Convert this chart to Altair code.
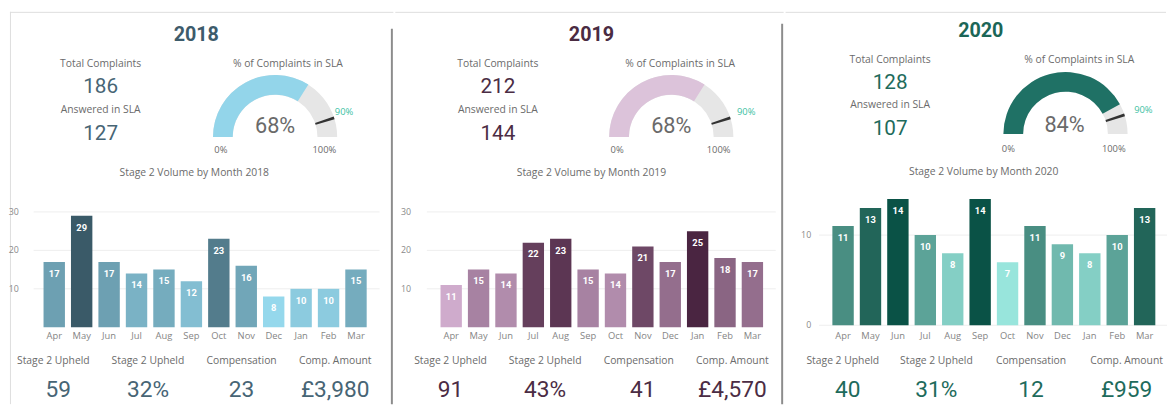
import math
import altair as alt
import pandas as pd

# ---------------- data ----------------
months = ["Apr", "May", "Jun", "Jul", "Aug", "Sep", "Oct", "Nov", "Dec", "Jan", "Feb", "Mar"]
years = ["2018", "2019", "2020"]
vol_2018 = [17, 29, 17, 14, 15, 12, 23, 16, 8, 10, 10, 15]
vol_2019 = [11, 15, 14, 22, 23, 15, 14, 21, 17, 25, 18, 17]
vol_2020 = [11, 13, 14, 10, 8, 14, 7, 11, 9, 8, 10, 13]
total_complaints = [186, 212, 128]
answered_in_sla = [127, 144, 107]
sla_pct = [68, 68, 84]
sla_target = 90
upheld_count = ["59", "91", "40"]
upheld_pct = ["32%", "43%", "31%"]
compensation = ["23", "41", "12"]
comp_amount = ["£3,980", "£4,570", "£959"]
y_ticks = [[10, 20, 30], [10, 20, 30], [0, 10]]
y_max = [34, 34, 14.8]
vols = [vol_2018, vol_2019, vol_2020]
kpi_labels = ["Stage 2 Upheld", "Stage 2 Upheld", "Compensation", "Comp. Amount"]

# ---------------- layout / style ----------------
LABEL_FONT = "Open Sans"
NUM_FONT = "Roboto"
GRAY = "#6b6b6b"

layouts = [
    dict(w=388, title=(189, 24), kpi_x=92, kpi_y=[53, 76, 100, 124], gtitle=(282, 53),
         gc=(269, 127), pct=(269, 116), zero=(214, 140), hundred=(319, 140), tgt=(339, 102),
         btitle=(187, 164), band=(31, 365), ytick_x=9, grid=(24, 375), y0=320, ytop=187.4,
         lab_x=[44, 140, 235, 330], val_x=[49, 140, 235, 330],
         title_c="#3d5b6b", num_c="#476575", gauge_c="#93d5ea",
         bar_range=["#95d8ec", "#3a5a68"]),
    dict(w=393, title=(199, 24), kpi_x=104, kpi_y=[53, 76, 100, 124], gtitle=(289, 53),
         gc=(280, 127), pct=(280, 116), zero=(225, 140), hundred=(328, 140), tgt=(356, 102),
         btitle=(199, 164), band=(42.8, 376.2), ytick_x=16, grid=(32, 386), y0=320, ytop=187.4,
         lab_x=[56, 152, 247, 342], val_x=[56, 152, 251, 342],
         title_c="#4a2b42", num_c="#4b2c44", gauge_c="#dcc3da",
         bar_range=["#cfabcc", "#4a2541"]),
    dict(w=385, title=(198, 19), kpi_x=106, kpi_y=[49, 72, 95, 119], gtitle=(298, 49),
         gc=(284, 124), pct=(283, 115), zero=(226, 139), hundred=(333, 139), tgt=(363, 100),
         btitle=(201, 163), band=(44.4, 378.2), ytick_x=26, grid=(34, 387), y0=318, ytop=182.6,
         lab_x=[58, 153, 249, 346], val_x=[63, 153, 249, 346],
         title_c="#1b6657", num_c="#1e6b5c", gauge_c="#1f7165",
         bar_range=["#98e5dc", "#0a5246"]),
]

H = 398
one = pd.DataFrame({"k": [0]})


def txt(s, x, y, size, color, weight="normal", font=LABEL_FONT, align="center"):
    return alt.Chart(one).mark_text(
        text=str(s), fontSize=size, color=color, fontWeight=weight, font=font,
        align=align, baseline="middle"
    ).encode(x=alt.value(x), y=alt.value(y))


def panel(i):
    L = layouts[i]
    vol = vols[i]
    df = pd.DataFrame({"month": months, "vol": vol})
    tdf = pd.DataFrame({"t": y_ticks[i]})

    xscale = alt.Scale(domain=months, range=list(L["band"]), paddingInner=0.22, paddingOuter=0.11)
    yscale = alt.Scale(domain=[0, y_max[i]], range=[L["y0"], L["ytop"]], nice=False, zero=True)
    X = alt.X("month:N", sort=months, scale=xscale, axis=None)
    Yv = alt.Y("vol:Q", scale=yscale, axis=None)
    Yt = alt.Y("t:Q", scale=yscale, axis=None)

    layers = []
    # frame lines
    layers.append(alt.Chart(one).mark_rule(color="#dddddd", strokeWidth=1).encode(
        x=alt.value(0), x2=alt.value(L["w"] + 1), y=alt.value(0.5)))
    if i == 0:
        layers.append(alt.Chart(one).mark_rule(color="#dddddd", strokeWidth=1).encode(
            x=alt.value(0.5), y=alt.value(0), y2=alt.value(H)))
    if i < 2:
        layers.append(alt.Chart(one).mark_rule(color="#8c8c8c", strokeWidth=2).encode(
            x=alt.value(L["w"] - 0.5), y=alt.value(12 if i == 1 else 17), y2=alt.value(H)))

    # texts top
    layers.append(txt(years[i], L["title"][0], L["title"][1], 20, L["title_c"], "bold", NUM_FONT))
    layers.append(txt("Total Complaints", L["kpi_x"], L["kpi_y"][0], 10.5, GRAY))
    layers.append(txt(total_complaints[i], L["kpi_x"], L["kpi_y"][1], 21, L["num_c"], "normal", NUM_FONT))
    layers.append(txt("Answered in SLA", L["kpi_x"], L["kpi_y"][2], 10.5, GRAY))
    layers.append(txt(answered_in_sla[i], L["kpi_x"], L["kpi_y"][3], 21, L["num_c"], "normal", NUM_FONT))
    layers.append(txt("% of Complaints in SLA", L["gtitle"][0], L["gtitle"][1], 10.5, GRAY))

    # gauge
    gdf = pd.DataFrame({"lo": [0], "full": [100], "pct": [sla_pct[i]],
                        "t0": [sla_target - 0.7], "t1": [sla_target + 0.7]})
    tscale = alt.Scale(domain=[0, 100], range=[-math.pi / 2, math.pi / 2])
    cx, cy = L["gc"]
    layers.append(alt.Chart(gdf).mark_arc(radius=63, radius2=43, color="#e6e6e6").encode(
        theta=alt.Theta("lo:Q", scale=tscale, stack=None), theta2="full:Q",
        x=alt.value(cx), y=alt.value(cy)))
    layers.append(alt.Chart(gdf).mark_arc(radius=63, radius2=43, color=L["gauge_c"]).encode(
        theta=alt.Theta("lo:Q", scale=tscale, stack=None), theta2="pct:Q",
        x=alt.value(cx), y=alt.value(cy)))
    layers.append(alt.Chart(gdf).mark_arc(radius=63, radius2=43, color="#333333").encode(
        theta=alt.Theta("t0:Q", scale=tscale, stack=None), theta2="t1:Q",
        x=alt.value(cx), y=alt.value(cy)))
    layers.append(txt(f"{sla_pct[i]}%", L["pct"][0], L["pct"][1], 22, "#6a6a6a", "normal", NUM_FONT))
    layers.append(txt("0%", L["zero"][0], L["zero"][1], 9.5, GRAY))
    layers.append(txt("100%", L["hundred"][0], L["hundred"][1], 9.5, GRAY))
    layers.append(txt(f"{sla_target}%", L["tgt"][0], L["tgt"][1], 9.5, "#3dbfa4"))
    layers.append(txt(f"Stage 2 Volume by Month {years[i]}", L["btitle"][0], L["btitle"][1], 10.5, GRAY))

    # bar chart
    layers.append(alt.Chart(tdf).mark_rule(color="#eeeeee", strokeWidth=1).encode(
        y=Yt, x=alt.value(L["grid"][0]), x2=alt.value(L["grid"][1])))
    layers.append(alt.Chart(tdf).mark_text(align="right", baseline="middle", fontSize=9,
                                           color="#8a8a8a", font=LABEL_FONT).encode(
        y=Yt, x=alt.value(L["ytick_x"]), text="t:Q"))
    layers.append(alt.Chart(df).mark_bar().encode(
        x=X, y=Yv,
        color=alt.Color("vol:Q", scale=alt.Scale(domain=[min(vol), max(vol)], range=L["bar_range"]),
                        legend=None)))
    layers.append(alt.Chart(df).mark_text(baseline="middle", dy=12, fontSize=9.5, fontWeight="bold",
                                          color="white", font=NUM_FONT).encode(
        x=X, y=Yv, text="vol:Q"))
    layers.append(alt.Chart(df).mark_text(baseline="middle", fontSize=9.5, color="#858585",
                                          font=LABEL_FONT).encode(
        x=X, y=alt.value(329), text="month:N"))

    # bottom KPIs
    vals = [upheld_count[i], upheld_pct[i], compensation[i], comp_amount[i]]
    for j in range(4):
        layers.append(txt(kpi_labels[j], L["lab_x"][j], 354, 10.5, GRAY))
        layers.append(txt(vals[j], L["val_x"][j], 384, 23, L["num_c"], "normal", NUM_FONT))

    return alt.layer(*layers).properties(width=L["w"], height=H)


chart = alt.hconcat(panel(0), panel(1), panel(2), spacing=0).resolve_scale(
    x="independent", y="independent", color="independent"
).configure_view(strokeWidth=0).properties(padding=0)

chart.save("out.html", embed_options={"renderer": "svg", "actions": False})
